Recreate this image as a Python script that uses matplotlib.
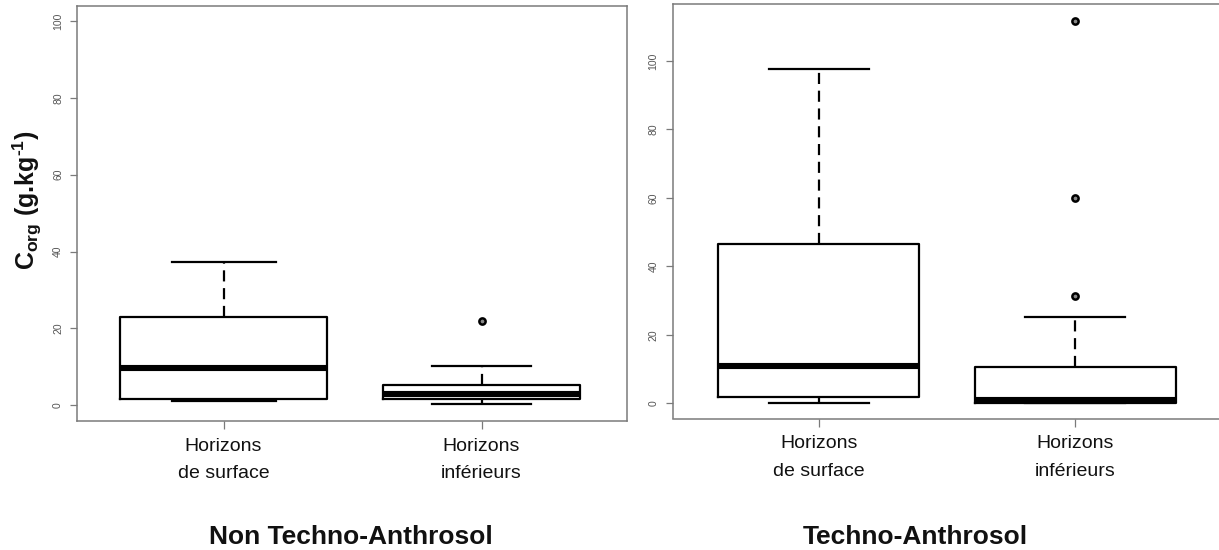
import matplotlib
matplotlib.use('Agg')
import matplotlib.pyplot as plt

plt.rcParams['font.family'] = ['Liberation Sans', 'DejaVu Sans']
plt.rcParams['mathtext.fontset'] = 'custom'
plt.rcParams['mathtext.rm'] = 'Liberation Sans'
plt.rcParams['mathtext.bf'] = 'Liberation Sans:bold'
plt.rcParams['mathtext.it'] = 'Liberation Sans:italic'

# Carbone organique (g/kg) - statistiques des boîtes par groupe
categories = ['Horizons\nde surface', 'Horizons\ninférieurs']
groupes = ['Non Techno-Anthrosol', 'Techno-Anthrosol']

# Non Techno-Anthrosol
nta_q1 = [1.7, 1.7]
nta_med = [9.7, 2.9]
nta_q3 = [23.0, 5.3]
nta_bas = [1.0, 0.4]
nta_haut = [37.4, 10.1]
nta_extremes = [[], [21.9]]

# Techno-Anthrosol
ta_q1 = [1.9, 0.2]
ta_med = [10.9, 0.9]
ta_q3 = [46.4, 10.7]
ta_bas = [0.0, 0.0]
ta_haut = [97.5, 25.3]
ta_extremes = [[], [31.3, 60.0, 111.6]]

yticks = [0, 20, 40, 60, 80, 100]


def stats(q1, med, q3, bas, haut, extremes):
    out = []
    for i in range(len(med)):
        out.append({'med': med[i], 'q1': q1[i], 'q3': q3[i],
                    'whislo': bas[i], 'whishi': haut[i],
                    'fliers': extremes[i], 'label': categories[i]})
    return out


W, H = 1219, 550
fig = plt.figure(figsize=(W / 100, H / 100), dpi=100)

# positions des cadres en pixels (gauche, haut, droite, bas)
cadres = [(77, 6, 627, 421), (672.5, 4, 1221, 418.5)]
ylims = [(-4.1, 103.9), (-4.45, 116.6)]
xlims = [(0.432, 2.564), (0.431, 2.567)]
largeurs = [[0.806, 0.76], [0.78, 0.78]]
donnees = [stats(nta_q1, nta_med, nta_q3, nta_bas, nta_haut, nta_extremes),
           stats(ta_q1, ta_med, ta_q3, ta_bas, ta_haut, ta_extremes)]
centres_titre = [351, 915]

gris = '#7a7a7a'
for k in range(2):
    l, t, r, b = cadres[k]
    ax = fig.add_axes([l / W, (H - b) / H, (r - l) / W, (b - t) / H])
    ax.bxp(donnees[k], positions=[1, 2], widths=largeurs[k],
           boxprops=dict(color='black', linewidth=1.6),
           whiskerprops=dict(color='black', linewidth=1.6, linestyle=(0, (5, 3))),
           capprops=dict(color='black', linewidth=1.6),
           medianprops=dict(color='black', linewidth=4.4, solid_capstyle='butt'),
           flierprops=dict(marker='o', markersize=4.5, markerfacecolor='#888888',
                           markeredgecolor='black', markeredgewidth=1.8))
    ax.set_xlim(*xlims[k])
    ax.set_ylim(*ylims[k])
    ax.set_yticks(yticks)
    ax.set_yticklabels([str(v) for v in yticks], rotation=90, va='center',
                       fontsize=7.5, color='#555555')
    ax.set_xticks([1, 2])
    ax.set_xticklabels(categories, fontsize=14, color='#111111', linespacing=1.8)
    ax.tick_params(axis='y', length=5, width=0.9, color=gris, pad=5)
    ax.tick_params(axis='x', length=6, width=0.9, color=gris, pad=6)
    for s in ax.spines.values():
        s.set_color(gris)
        s.set_linewidth(1.1)
    fig.text(centres_titre[k] / W, 1 - 537 / H, groupes[k], ha='center', va='center',
             fontsize=19, fontweight='bold', color='#111111')

fig.text(27 / W, 1 - 200 / H, r'$\mathbf{C_{org}}$ (g.kg$^{\mathbf{‐1}}$)', rotation=90,
         ha='center', va='center', fontsize=18, fontweight='bold', color='#111111')

fig.savefig('out.png', dpi=100)
